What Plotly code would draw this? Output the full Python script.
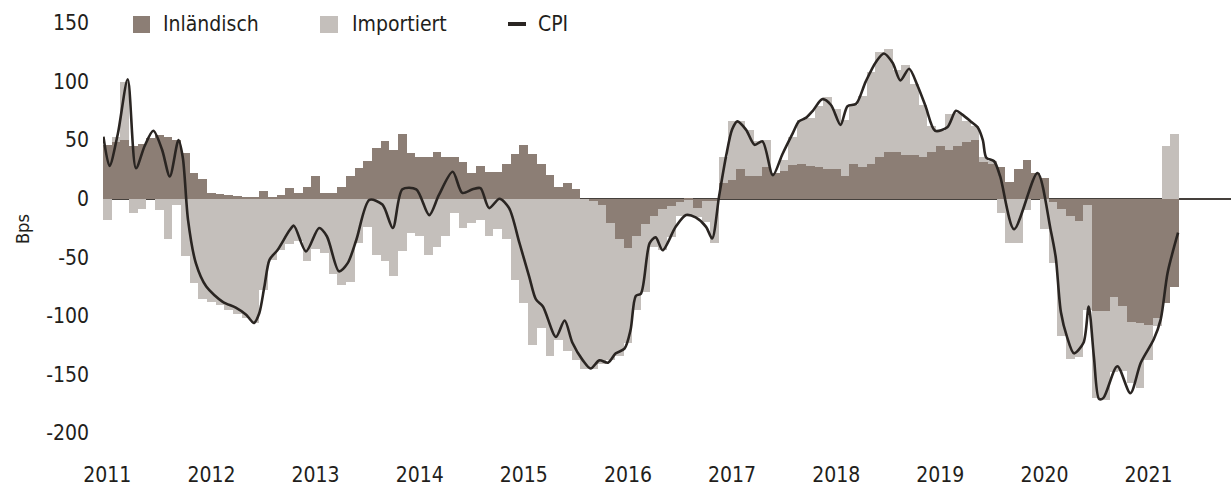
import plotly.graph_objects as go

# ---------------- data ----------------
years = ["2011", "2012", "2013", "2014", "2015", "2016", "2017", "2018", "2019", "2020", "2021"]
year_pos = [0, 12, 24, 36, 48, 60, 72, 84, 96, 108, 120]   # month index of each January

y_ticks = [-200, -150, -100, -50, 0, 50, 100, 150]
y_tick_text = ["-200", "-150", "-100", "-50", "0", "50", "100", "150"]

# monthly contributions, Jan 2011 .. Apr 2021 (bps)
inlandisch = [
    46, 48, 50, 45, 47, 52, 54, 53, 50, 39, 22, 17,
    5, 4, 3, 2, 1, 1, 7, 1, 3, 9, 5, 10,
    19, 5, 5, 10, 19, 26, 32, 43, 49, 42, 55, 39,
    36, 36, 40, 36, 36, 31, 22, 28, 23, 23, 30, 38,
    46, 38, 30, 20, 10, 13, 8, 0, -2, -5, -21, -34,
    -42, -32, -22, -15, -9, -6, -3, -1, -8, -2, -2, 13,
    16, 25, 19, 19, 27, 22, 24, 29, 30, 28, 27, 25,
    25, 19, 30, 27, 30, 36, 40, 40, 37, 37, 36, 40,
    45, 42, 45, 48, 50, 31, 30, 27, 14, 25, 33, 22,
    18, -3, -9, -15, -19, -5, -96, -96, -84, -92, -105, -106,
    -108, -102, -89, -75,
]
importiert = [
    -18, 5, 50, -12, -9, 0, -10, -34, -5, -49, -72, -86,
    -88, -91, -95, -98, -102, -106, -78, -52, -44, -39, -36, -53,
    -43, -46, -64, -74, -71, -38, -24, -48, -53, -66, -45, -29,
    -32, -48, -41, -32, -12, -25, -21, -18, -32, -26, -34, -69,
    -89, -125, -110, -134, -121, -130, -138, -145, -143, -136, -117, -100,
    -81, -63, -58, -26, -35, -27, -12, -14, -8, -18, -36, 23,
    50, 41, 40, 30, 23, 0, 9, 24, 37, 41, 52, 62,
    52, 48, 50, 61, 78, 89, 88, 70, 77, 61, 44, 22,
    13, 30, 28, 18, 12, 5, 2, -12, -38, -38, -10, 0,
    -26, -52, -108, -122, -116, -90, -74, -76, -64, -55, -52, -56,
    -30, -7, 45, 55,
]

# CPI line: points (position in months since Jan 2011, bps)
cpi_pos = [
    -0.45, 0.25, 1.2, 2.35, 3.3, 4.3, 5.3, 6.3, 7.2, 8.2, 8.7, 9.3, 10.2, 11.4,
    13.3, 14.8, 16.0, 16.9, 17.5, 18.1, 18.7, 19.6, 21.0, 21.5, 22.9, 24.4, 25.3,
    26.7, 27.7, 28.7, 30.2, 31.7, 32.9, 34.0, 35.6, 37.1, 38.2, 39.8, 40.9, 42.1,
    43.0, 44.0, 45.2, 46.3, 47.5, 48.6, 49.4, 50.2, 51.7, 52.7, 53.6, 54.8, 55.7,
    56.7, 57.7, 58.6, 59.6, 60.3, 60.9, 61.5, 62.5, 63.2, 64.0, 65.5, 66.7, 67.8,
    69.0, 69.7, 70.5, 71.3, 72.0, 72.6, 73.6, 74.6, 75.5, 76.7, 77.8, 79.0, 79.7,
    80.5, 81.3, 82.4, 83.4, 84.5, 85.3, 86.3, 87.4, 88.6, 89.5, 90.5, 91.4, 92.4,
    93.4, 94.3, 95.4, 96.8, 97.8, 98.5, 99.5, 100.3, 100.9, 101.3, 102.2, 102.9,
    104.5, 107.2, 108.7, 109.3, 109.9, 110.6, 111.4, 112.5, 113.1, 113.7, 114.3,
    114.8, 116.4, 117.9, 119.1, 120.6, 121.4, 122.2, 123.4,
]
cpi_val = [
    53, 28, 55, 102, 26, 45, 58, 42, 19, 50, 35, -18, -55, -75,
    -88, -93, -99, -106, -98, -75, -52, -44, -27, -23, -45, -25, -32,
    -62, -55, -35, -1, -5, -25, 8, 8, -14, 3, 23, 5, 8,
    9, -8, 0, -8, -38, -66, -86, -92, -118, -104, -123, -138, -145,
    -138, -140, -132, -128, -112, -83, -81, -38, -33, -44, -24, -14, -16,
    -24, -34, 2, 36, 59, 66, 59, 46, 49, 20, 38, 56, 66,
    69, 75, 85, 80, 63, 79, 81, 100, 117, 124, 116, 101, 111,
    96, 79, 58, 61, 75, 72, 66, 61, 50, 35, 32, 19,
    -26, 22, -26, -50, -97, -118, -132, -123, -92, -135, -171,
    -170, -143, -166, -140, -120, -103, -63, -29,
]

months = list(range(len(inlandisch)))

# ---------------- styling ----------------
FONT = "Liberation Sans Narrow, DejaVu Sans Condensed, Arial Narrow, sans-serif"
TXT = "#221e1b"
DARK = "#8c7e75"
LIGHT = "#c4bfbb"
LINE = "#2a2522"
FS = 21

W, H = 1231, 486
ML, MR, MT, MB = 103, 0, 23, 53


def px_x(px):
    return (px - ML) / (W - ML - MR)


def px_y(py):
    return (H - MB - py) / (H - MT - MB)


fig = go.Figure()
fig.add_bar(x=months, y=inlandisch, name="Inländisch",
            marker=dict(color=DARK, line=dict(width=0)))
fig.add_bar(x=months, y=importiert, name="Importiert",
            marker=dict(color=LIGHT, line=dict(width=0)))
fig.add_scatter(x=cpi_pos, y=cpi_val, mode="lines", name="CPI",
                line=dict(color=LINE, width=2.6, shape="spline", smoothing=0.8))

fig.update_layout(
    width=W, height=H,
    margin=dict(l=ML, r=MR, t=MT, b=MB, pad=0),
    barmode="relative", bargap=0,
    showlegend=False,
    plot_bgcolor="white", paper_bgcolor="white",
    font=dict(family=FONT, size=FS, color=TXT),
)
fig.update_xaxes(range=[-0.5, 129.5], tickmode="array", tickvals=year_pos, ticktext=years,
                 showgrid=False, zeroline=False, showline=False, ticks="",
                 ticklabelstandoff=27)
fig.update_yaxes(range=[-200, 150], tickmode="array", tickvals=y_ticks, ticktext=y_tick_text,
                 showgrid=False, zeroline=True, zerolinecolor="#45403c", zerolinewidth=2,
                 showline=False, ticks="", ticklabelstandoff=13, layer="above traces")

# manual legend (squares / dash + real text)
legend_items = [
    ("rect", DARK, 133, 150, "Inländisch", 161),
    ("rect", LIGHT, 320, 338, "Importiert", 350),
    ("line", LINE, 508, 526, "CPI", 536),
]
for kind, col, x0, x1, label, tx in legend_items:
    if kind == "rect":
        fig.add_shape(type="rect", xref="paper", yref="paper",
                      x0=px_x(x0), x1=px_x(x1), y0=px_y(33), y1=px_y(16),
                      fillcolor=col, line=dict(width=0))
    else:
        fig.add_shape(type="line", xref="paper", yref="paper",
                      x0=px_x(x0), x1=px_x(x1), y0=px_y(24), y1=px_y(24),
                      line=dict(color=col, width=4))
    fig.add_annotation(text=label, xref="paper", yref="paper", x=px_x(tx), y=px_y(24),
                       xanchor="left", yanchor="middle", showarrow=False,
                       font=dict(family=FONT, size=FS, color=TXT))

fig.add_annotation(text="Bps", xref="paper", yref="paper", x=px_x(22), y=px_y(229),
                   xanchor="center", yanchor="middle", textangle=-90, showarrow=False,
                   font=dict(family=FONT, size=18, color=TXT))

fig.write_html("out.html")
